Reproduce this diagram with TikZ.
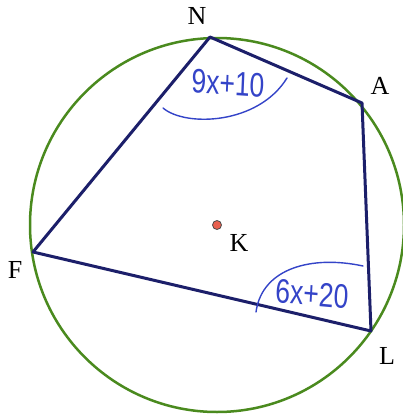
\documentclass[tikz,border=0pt]{standalone}
\usepackage{fontspec}
\setmainfont{Liberation Serif}
\newfontfamily\handfont{Liberation Sans}
\definecolor{circgreen}{HTML}{4A8A1E}
\definecolor{edgenavy}{HTML}{1C1F6A}
\definecolor{penblue}{HTML}{3444C8}
\definecolor{dotred}{HTML}{E8604F}
\begin{document}
\begin{tikzpicture}[x=1pt,y=-1pt,
  vlabel/.style={font=\fontsize{26}{26}\selectfont, inner sep=0pt},
  edge/.style={draw=edgenavy, line width=3pt, line join=round, line cap=round},
  pen/.style={draw=penblue, line width=1.4pt, line cap=round},
  handtext/.style={text=penblue, font=\handfont\fontsize{34}{34}\selectfont, inner sep=0pt, xscale=0.78}]
\useasboundingbox (0,0) rectangle (403,415);
\fill[white] (0,0) rectangle (403,415);
\coordinate (Kc) at (217,225);
\draw[circgreen, line width=2.5pt] (Kc) circle[radius=187];
\coordinate (N) at (210,37);
\coordinate (A) at (362,103);
\coordinate (L) at (371,331);
\coordinate (F) at (33,252);
\draw[edge] (N) -- (A) -- (L) -- (F) -- cycle;
\fill[dotred, draw=black!70, line width=0.8pt] (Kc) circle[radius=4.5];
\node[vlabel] (Nl) at (197,16) {N};
\node[vlabel] (Al) at (380,86) {A};
\node[vlabel] (Ll) at (387,356) {L};
\node[vlabel] (Fl) at (15,270) {F};
\node[vlabel] (Kl) at (239,243) {K};
% handwritten angle measures
\coordinate (a1s) at (163,108);
\coordinate (a1e) at (287,78);
\draw[pen] (a1s) .. controls (185,127) and (258,125) .. (a1e);
\node[handtext, rotate=-3] (t1) at (228,83) {9x+10};
\coordinate (a2s) at (256,312);
\coordinate (a2e) at (363,266);
\draw[pen] (a2s) .. controls (262,268) and (312,255) .. (a2e);
\node[handtext, rotate=-4] (t2) at (312,294) {6x+20};
\end{tikzpicture}
\end{document}
